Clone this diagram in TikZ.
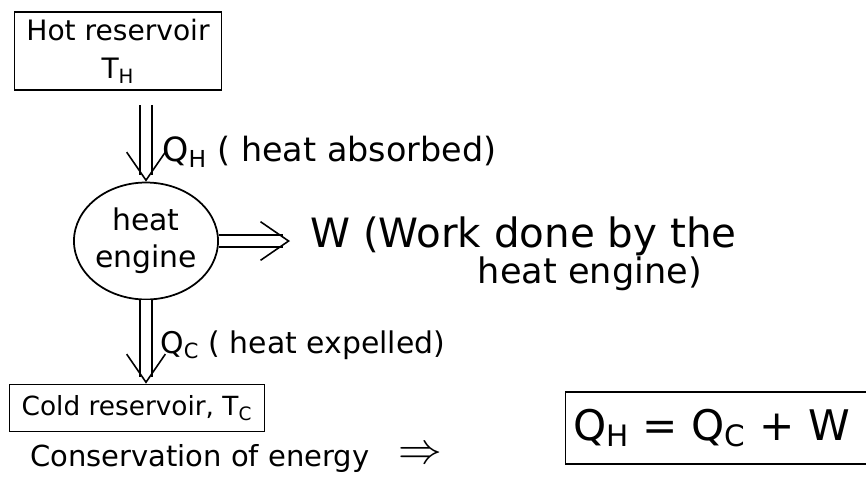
\documentclass[tikz,border=0pt]{standalone}
\usepackage{fontspec}
\setmainfont{DejaVu Sans}
\usetikzlibrary{arrows.meta,positioning,shapes.geometric}

\begin{document}
\begin{tikzpicture}[
    x=0.02cm, y=-0.02cm,
    reservoir/.style={rectangle, draw, line width=1pt, inner sep=2pt, align=center},
    engine/.style={ellipse, draw, line width=1pt, minimum width=2.8cm, minimum height=2.34cm, inner sep=0pt, align=center, font=\fontsize{17}{21}\selectfont},
    heatflow/.style={draw=white, line width=0.9pt, -{Straight Barb[length=16pt, width=22pt, color=black]},
        preaction={draw=black, -, double, double distance=6pt, line width=0.9pt, shorten >=4pt}},
    note/.style={anchor=west, inner sep=0pt, align=left, font=\fontsize{19}{22}\selectfont},
]
\useasboundingbox (0,0) rectangle (866,485);
\clip (0,0) rectangle (866,485);

% Reservoirs and engine
\node[reservoir, minimum width=4.14cm, minimum height=1.56cm, font=\fontsize{16}{22}\selectfont] (hot) at (118,51) {Hot reservoir\\T\textsubscript{H}};
\node[engine] (eng) at (146,241) {heat\\engine};
\node[reservoir, minimum width=5.1cm, minimum height=0.94cm, font=\fontsize{15}{18}\selectfont] (cold) at (137,408) {Cold reservoir, T\textsubscript{C}};

% Labels
\node[note] (qh) at (162,152) {Q\textsubscript{H} ( heat absorbed)};
\node[note, anchor=north west, font=\fontsize{23}{19}\selectfont] (work) at (310,216) {W (Work done by the\\\hspace*{3.35cm}{\fontsize{20}{19}\selectfont heat engine)}};
\node[note, font=\fontsize{17}{20}\selectfont] (qc) at (160,345) {Q\textsubscript{C} ( heat expelled)};
\coordinate (wtip) at ([xshift=-0.4cm]work.west |- eng.east);

% Heat and work flows
\draw[heatflow, shorten <=8pt] (eng.north |- hot.south) -- (eng.north);
\draw[heatflow] (eng.east) -- (wtip);
\draw[heatflow] (eng.south) -- (eng.south |- cold.north);

% Energy balance
\node[note, font=\fontsize{16.5}{20}\selectfont] (cons) at (30,458) {Conservation of energy};
\node[font=\fontsize{24}{26}\selectfont] (imp) at (420,455) {$\Rightarrow$};
\node[reservoir, minimum width=6.3cm, minimum height=1.44cm, font=\fontsize{24}{28}\selectfont] (eqn) at (723,428) {Q\textsubscript{H} = Q\textsubscript{C} + W\hspace*{0.45cm}};

\end{tikzpicture}
\end{document}
